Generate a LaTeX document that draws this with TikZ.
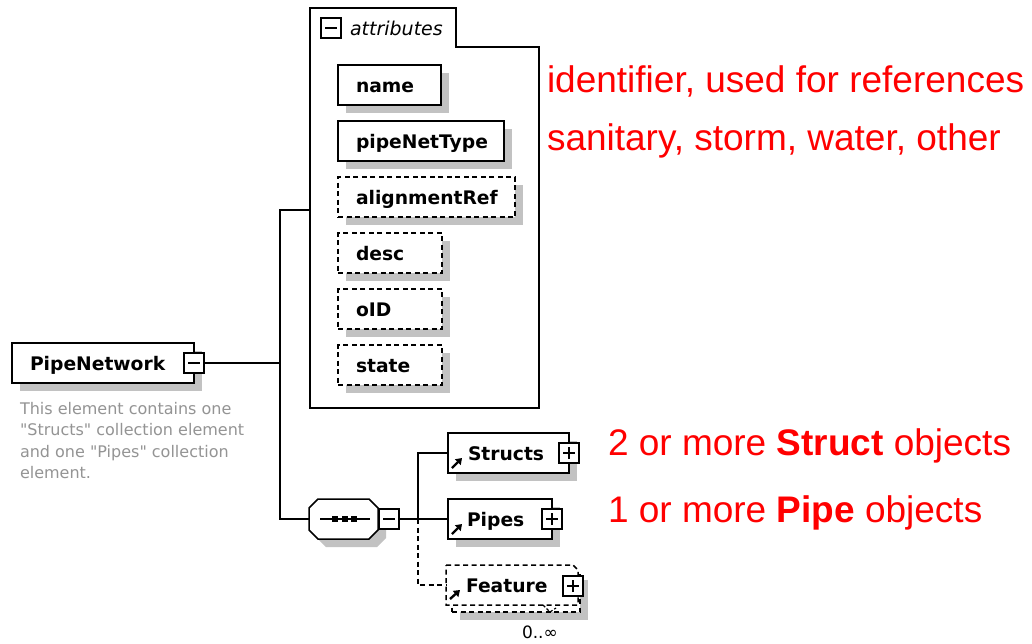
\documentclass[tikz,border=0pt]{standalone}
\usepackage{fontspec}
\setmainfont{DejaVu Sans}
\newfontfamily\arialf{Liberation Sans}
\newfontfamily\docfont{DejaVu Sans}[Ligatures=TeXOff]
\usetikzlibrary{shadows,arrows.meta,calc}
\begin{document}
\begin{tikzpicture}[x=1pt,y=-1pt,
  every node/.style={inner sep=0pt,outer sep=0pt},
  conn/.style={line width=1.5pt},
  dconn/.style={line width=1.5pt,dash pattern=on 5pt off 3.5pt},
  shadowed/.style={drop shadow={shadow xshift=8pt,shadow yshift=-8pt,fill=black!24,draw=none,opacity=1}},
  elbox/.style={draw,line width=1.5pt,fill=white,minimum height=40pt,anchor=north west,shadowed},
  optbox/.style={elbox,dash pattern=on 5pt off 3.5pt},
  lbl/.style={font=\fontsize{18.7}{22}\selectfont\bfseries,anchor=base west,text=black},
  minus/.style={draw,line width=1.3pt,fill=white,minimum size=20pt,
    path picture={\draw[line width=1.3pt] ([xshift=4pt]path picture bounding box.west) -- ([xshift=-4pt]path picture bounding box.east);}},
  plus/.style={draw,line width=1.3pt,fill=white,minimum size=20pt,
    path picture={\draw[line width=1.3pt] ([xshift=4pt]path picture bounding box.west) -- ([xshift=-4pt]path picture bounding box.east);
      \draw[line width=1.3pt] ([yshift=4pt]path picture bounding box.south) -- ([yshift=-4pt]path picture bounding box.north);}},
  reficon/.style={line width=2.4pt,-{Triangle[length=6pt,width=8pt]}},
  note/.style={font=\arialf\fontsize{37}{40}\selectfont,text=red,anchor=base west},
  doc/.style={font=\docfont\fontsize{16}{21.3}\selectfont,text=black!42,align=left,anchor=north west}
]
\useasboundingbox[fill=white] (0,0) rectangle (1032,643);

% root element
\node[elbox,minimum width=182pt] (pn) at (12,343) {};
\node[lbl] (lpn) at ([xshift=18pt,yshift=-7pt]pn.west) {PipeNetwork};
\node[minus] (pnminus) at (pn.east) {};
\node[doc] (pndoc) at (20,402.5) {This element contains one\\"Structs" collection element\\and one "Pipes" collection\\element.};

% attributes container
\coordinate (attrin) at (310,210);
\draw[line width=1.5pt] (310,8) -- (456,8) -- (456,47) -- (539,47) -- (539,408) -- (310,408) -- cycle;
\node[minus,minimum size=20pt,line width=1.1pt] (attrminus) at (331,28) {};
\node[font=\fontsize{19}{22}\selectfont\itshape,anchor=base west] (attrlbl) at (350,35) {attributes};

\node[elbox,minimum width=103pt] (aname) at (338,65) {};
\node[lbl] at ([xshift=18pt,yshift=-7pt]aname.west) {name};
\node[elbox,minimum width=166pt] (atype) at (338,121) {};
\node[lbl] at ([xshift=18pt,yshift=-7pt]atype.west) {pipeNetType};
\node[optbox,minimum width=177pt] (aalign) at (338,177) {};
\node[lbl] at ([xshift=18pt,yshift=-7pt]aalign.west) {alignmentRef};
\node[optbox,minimum width=104pt] (adesc) at (338,233) {};
\node[lbl] at ([xshift=18pt,yshift=-7pt]adesc.west) {desc};
\node[optbox,minimum width=104pt] (aoid) at (338,289) {};
\node[lbl] at ([xshift=18pt,yshift=-7pt]aoid.west) {oID};
\node[optbox,minimum width=104pt] (astate) at (338,345) {};
\node[lbl] at ([xshift=18pt,yshift=-7pt]astate.west) {state};

% sequence compositor
\node[minimum width=69pt,minimum height=40pt] (seq) at (343.5,519) {};
\draw[line width=1.5pt,fill=white,shadowed]
  ($(seq.north west)+(9,0)$) -- ($(seq.north east)+(-9,0)$) -- ($(seq.north east)+(0,9)$)
  -- ($(seq.south east)+(0,-9)$) -- ($(seq.south east)+(-9,0)$) -- ($(seq.south west)+(9,0)$)
  -- ($(seq.south west)+(0,-9)$) -- ($(seq.north west)+(0,9)$) -- cycle;
\draw[line width=1.3pt] ($(seq.west)+(11,0)$) -- ($(seq.east)+(-8,0)$);
\foreach \xx in {335,345,354} \fill (\xx-3,516) rectangle (\xx+3,522);
\node[minus,anchor=west] (seqminus) at ([xshift=1pt]seq.east) {};

% child elements
\node[elbox,minimum width=121pt] (structs) at (448,433) {};
\node[lbl] at ([xshift=20pt,yshift=-7pt]structs.west) {Structs};
\node[plus] (structsplus) at (structs.east) {};
\draw[reficon] ([xshift=4pt,yshift=5pt]structs.south west) -- ++(10,-10);

\node[elbox,minimum width=104pt] (pipes) at (448,499) {};
\node[lbl] at ([xshift=19pt,yshift=-7pt]pipes.west) {Pipes};
\node[plus] (pipesplus) at (pipes.east) {};
\draw[reficon] ([xshift=4pt,yshift=5pt]pipes.south west) -- ++(10,-10);

\node[optbox,minimum width=128pt] (featureback) at (452,572) {};
\node[fill=white,minimum width=132pt,minimum height=40pt,anchor=north west] (feature) at (446,565) {};
\draw[dconn] (feature.north west) -- ($(feature.north east)+(-5,0)$) -- ($(feature.north east)+(0,5)$)
  -- (feature.south east) -- (feature.south west) -- cycle;
\draw[line width=1.2pt,dash pattern=on 3pt off 2pt] ($(feature.south east)+(-35,0)$) -- ++(7,7) -- ++(6,-4);
\node[lbl] at ([xshift=20pt,yshift=-7pt]feature.west) {Feature};
\node[plus] (featureplus) at ([xshift=-5pt,yshift=-1pt]feature.east) {};
\draw[reficon] ([xshift=4pt,yshift=6pt]feature.south west) -- ++(10,-9);
\node[font=\fontsize{17}{20}\selectfont,anchor=base west] (occ) at (522,638) {0..∞};

% connectors
\coordinate (jtop) at (280,210);
\coordinate (jbot) at (280,519);
\coordinate (j2) at (418,519);
\draw[conn] (pnminus.east) -- (pnminus.east -| jtop);
\draw[conn] (attrin) -- (jtop) -- (jbot) -- (seq.west);
\draw[conn] (seqminus.east) -- (j2);
\draw[conn] (j2) |- (structs.west);
\draw[conn] (j2) -- (pipes.west);
\draw[dconn] (j2) |- (feature.west);

% annotations
\node[note] (n1) at (547,92) {identifier, used for references};
\node[note] (n2) at (547,150) {sanitary, storm, water, other};
\node[note] (n3) at (608,455) {2 or more {\bfseries Struct} objects};
\node[note] (n4) at (608,522) {1 or more {\bfseries Pipe} objects};
\end{tikzpicture}
\end{document}
